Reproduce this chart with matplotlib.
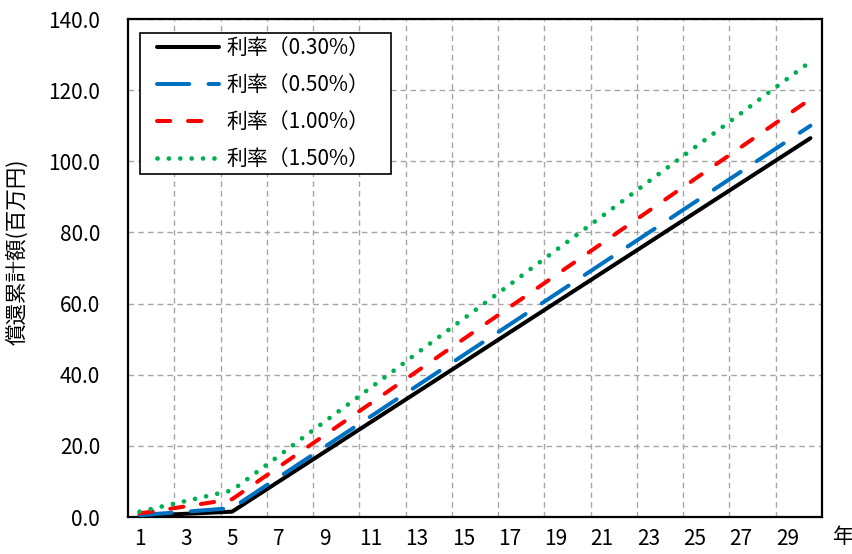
import numpy as np
import matplotlib
matplotlib.use("Agg")
import matplotlib.pyplot as plt
from matplotlib.patches import Rectangle
from matplotlib.ticker import FixedLocator

plt.rcParams['font.family'] = ['Noto Sans CJK JP', 'DejaVu Sans']

# 年次と各利率の償還累計額（百万円）
years = list(range(1, 31))
r030 = [0.3, 0.6, 0.9, 1.2, 1.5,
        5.7, 9.9, 14.1, 18.3, 22.5, 26.7, 30.9, 35.1, 39.3, 43.5,
        47.7, 51.9, 56.1, 60.3, 64.5, 68.7, 72.9, 77.1, 81.3, 85.5,
        89.7, 93.9, 98.1, 102.3, 106.5]
r050 = [0.5, 1.0, 1.5, 2.0, 2.5,
        6.8, 11.1, 15.4, 19.7, 24.0, 28.3, 32.6, 36.9, 41.2, 45.5,
        49.8, 54.1, 58.4, 62.7, 67.0, 71.3, 75.6, 79.9, 84.2, 88.5,
        92.8, 97.1, 101.4, 105.7, 110.0]
r100 = [1.0, 2.0, 3.0, 4.0, 5.0,
        9.5, 14.0, 18.5, 23.0, 27.5, 32.0, 36.5, 41.0, 45.5, 50.0,
        54.5, 59.0, 63.5, 68.0, 72.5, 77.0, 81.5, 86.0, 90.5, 95.0,
        99.5, 104.0, 108.5, 113.0, 117.5]
r150 = [1.5, 3.0, 4.5, 6.0, 7.5,
        12.3, 17.1, 22.0, 26.8, 31.6, 36.4, 41.2, 46.1, 50.9, 55.7,
        60.5, 65.3, 70.2, 75.0, 79.8, 84.6, 89.4, 94.3, 99.1, 103.9,
        108.7, 113.5, 118.4, 123.2, 128.0]
labels = ['利率（0.30%）', '利率（0.50%）', '利率（1.00%）', '利率（1.50%）']

W, H = 853, 554
fig = plt.figure(figsize=(W / 100, H / 100), dpi=100)
ax = fig.add_axes([128 / W, 37 / H, 694 / W, 498 / H])

lw = 2.9
ax.plot(years, r030, color='black', lw=lw, solid_capstyle='round', label=labels[0], zorder=3)
ax.plot(years, r050, color='#0070C0', lw=lw, dashes=(8.0, 4.8), dash_capstyle='round',
        label=labels[1], zorder=3)
ax.plot(years, r100, color='#FF0000', lw=lw, dashes=(3.3, 4.4), dash_capstyle='round',
        label=labels[2], zorder=3)
ax.plot(years, r150, color='#00B050', lw=lw + 0.5, dashes=(0.01, 2.4), dash_capstyle='round',
        label=labels[3], zorder=3)

ax.set_xlim(0.5, 30.5)
ax.set_ylim(0, 140)
ax.xaxis.set_major_locator(FixedLocator(list(range(1, 30, 2))))
ax.xaxis.set_minor_locator(FixedLocator([k + 0.5 for k in range(2, 30, 2)]))
ax.set_yticks(np.arange(0, 141, 20))
ax.set_yticklabels(['%.1f' % v for v in np.arange(0, 141, 20)])

ax.tick_params(axis='both', which='both', length=0, labelsize=15)
ax.tick_params(axis='y', pad=20)
ax.tick_params(axis='x', pad=8)

ax.grid(True, axis='x', which='minor', color='#A6A6A6', lw=1.0, ls=(0, (4, 3)))
ax.grid(True, axis='y', which='major', color='#A6A6A6', lw=1.0, ls=(0, (4, 3)))
ax.grid(False, axis='x', which='major')

for sp in ax.spines.values():
    sp.set_linewidth(1.6)
    sp.set_color('black')

# 凡例の枠（白地・黒枠）
box = Rectangle((140 / W, 1 - 174 / H), 251 / W, 141 / H, transform=fig.transFigure,
                facecolor='white', edgecolor='black', lw=1.2, zorder=4)
ax.add_artist(box)

leg = ax.legend(loc='upper left', bbox_to_anchor=(157 / W, 1 - 37 / H),
                bbox_transform=fig.transFigure, borderaxespad=0, borderpad=0,
                fontsize=15, handlelength=3.0, handletextpad=0.35, labelspacing=0.72,
                frameon=False)
leg.set_zorder(5)

fig.text(18 / W, 1 - 252 / H, '償還累計額(百万円)', rotation=90, fontsize=15.5,
         ha='center', va='center')
fig.text(843 / W, 1 - 537 / H, '年', fontsize=15, ha='center', va='center')

fig.savefig('out.png', dpi=100)
